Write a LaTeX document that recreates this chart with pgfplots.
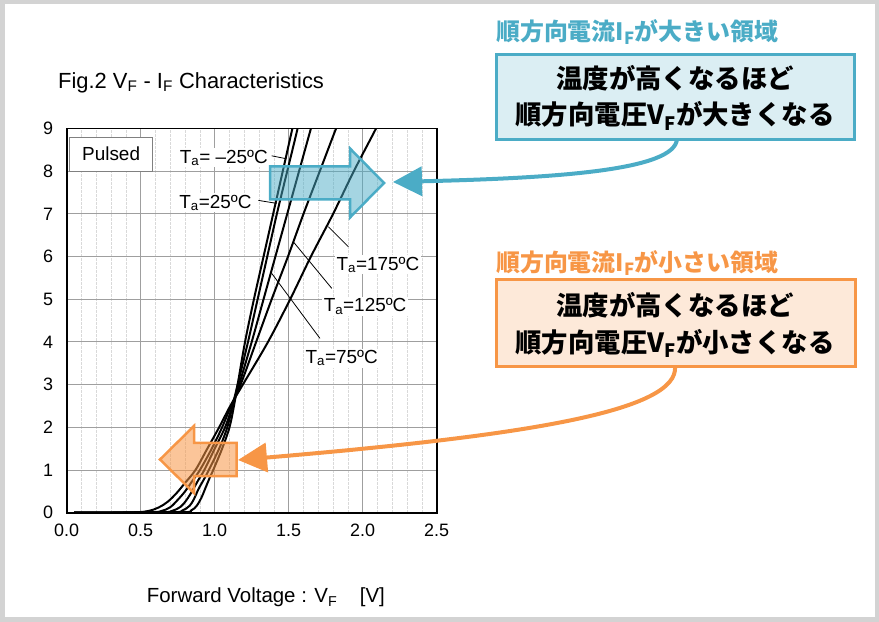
\documentclass[border=0pt]{standalone}
\usepackage{fontspec}
\setmainfont{Liberation Sans}
\newfontfamily\jp{Noto Sans CJK JP}
\usepackage{pgfplots}
\pgfplotsset{compat=1.18}
\usetikzlibrary{arrows.meta}

\definecolor{rblue}{RGB}{75,172,198}
\definecolor{rblueL}{RGB}{219,238,243}
\definecolor{rorange}{RGB}{247,150,70}
\definecolor{rorangeL}{RGB}{253,233,217}
\definecolor{framegray}{RGB}{211,211,211}

% forward voltage [V] vs forward current [A]
\pgfplotstableread{
V I
0.05 0
0.76 0.01
0.84 0.05
0.88 0.17
0.91 0.35
0.94 0.6
0.97 0.85
0.99 1.0
1.05 1.5
1.10 2.0
1.13 2.5
1.155 3
1.205 4
1.265 5
1.33 6
1.395 7
1.46 8
1.525 9
1.56 9.5
}\tm
\pgfplotstableread{
V I
0.05 0
0.70 0.01
0.78 0.05
0.83 0.16
0.86 0.32
0.89 0.55
0.93 0.8
0.96 1.0
1.03 1.5
1.085 2.0
1.12 2.5
1.155 3
1.225 4
1.29 5
1.355 6
1.42 7
1.49 8
1.56 9
1.59 9.5
}\tb
\pgfplotstableread{
V I
0.05 0
0.62 0.01
0.71 0.04
0.77 0.14
0.81 0.3
0.85 0.52
0.89 0.77
0.93 1.0
1.00 1.5
1.07 2.0
1.12 2.5
1.165 3
1.25 4
1.33 5
1.41 6
1.49 7
1.57 8
1.65 9
1.69 9.5
}\tc
\pgfplotstableread{
V I
0.05 0
0.55 0.01
0.64 0.04
0.70 0.13
0.75 0.3
0.80 0.5
0.85 0.75
0.90 1.0
0.98 1.5
1.05 2.0
1.11 2.5
1.175 3
1.28 4
1.385 5
1.495 6
1.60 7
1.71 8
1.82 9
1.88 9.5
}\td
\pgfplotstableread{
V I
0.05 0
0.45 0.01
0.55 0.04
0.62 0.12
0.68 0.25
0.74 0.45
0.80 0.7
0.87 1.0
0.95 1.5
1.03 2.0
1.105 2.5
1.19 3
1.36 4
1.51 5
1.65 6
1.80 7
1.94 8
2.09 9
2.16 9.5
}\te

\begin{document}
\begin{tikzpicture}
\begin{axis}[
    at={(66.7bp,109.3bp)}, anchor=south west,
    scale only axis, width=370bp, height=384.2bp,
    xmin=0, xmax=2.5, ymin=0, ymax=9,
    xtick={0,0.5,1,1.5,2,2.5}, ytick={0,1,...,9},
    minor x tick num=4,
    grid=both,
    major grid style={gray!75, line width=1bp},
    minor grid style={gray!30, line width=0.8bp, dash pattern=on 3bp off 1bp},
    major tick length=0, minor tick length=0,
    axis line style={black, line width=1.6bp},
    ticklabel style={font=\fontsize{18}{18}\selectfont},
    /pgf/number format/assume math mode=true,
    xticklabel style={yshift=-8bp, /pgf/number format/.cd, fixed, fixed zerofill, precision=1},
    yticklabel style={xshift=-10bp},
]
\addplot[black, line width=2bp, smooth, tension=0.55, no marks] table[x=V,y=I] {\tm};
\addplot[black, line width=2bp, smooth, tension=0.55, no marks] table[x=V,y=I] {\tb};
\addplot[black, line width=2bp, smooth, tension=0.55, no marks] table[x=V,y=I] {\tc};
\addplot[black, line width=2bp, smooth, tension=0.55, no marks] table[x=V,y=I] {\td};
\addplot[black, line width=2bp, smooth, tension=0.55, no marks] table[x=V,y=I] {\te};

% leaders
\draw[line width=0.8bp] (axis cs:1.385,8.36) -- (axis cs:1.486,8.29);
\draw[line width=0.8bp] (axis cs:1.295,7.316) -- (axis cs:1.419,7.246);
\draw[line width=0.8bp] (axis cs:1.768,6.698) -- (axis cs:1.903,6.23);
\draw[line width=0.8bp] (axis cs:1.531,6.347) -- (axis cs:1.791,5.255);
\draw[line width=0.8bp] (axis cs:1.385,5.607) -- (axis cs:1.711,4.084);

\tikzset{tal/.style={fill=white, inner sep=1.5bp, font=\fontsize{19}{19}\selectfont}}
\node[tal, anchor=base east] at (axis cs:1.37,8.19) {T\textsubscript{a}= –25ºC};
\node[tal, anchor=base east] at (axis cs:1.26,7.136) {T\textsubscript{a}=25ºC};
\node[tal, anchor=base] at (axis cs:2.103,5.684) {T\textsubscript{a}=175ºC};
\node[tal, anchor=base] at (axis cs:2.016,4.707) {T\textsubscript{a}=125ºC};
\node[tal, anchor=base] at (axis cs:1.858,3.5) {T\textsubscript{a}=75ºC};

\draw[gray, line width=0.8bp, fill=white] (axis cs:0.018,8.80) rectangle (axis cs:0.58,8.0);
\node[font=\fontsize{19}{19}\selectfont] at (axis cs:0.3,8.40) {Pulsed};
\end{axis}

\begin{scope}[shift={(0bp,622bp)}, x=1bp, y=-1bp]
\draw[framegray, line width=4.5bp] (2.25,2.25) rectangle (876.75,619.75);

\node[anchor=base west, inner sep=0, font=\fontsize{22}{22}\selectfont] at (58,88.3)
  {Fig.2 V\textsubscript{F} - I\textsubscript{F} Characteristics};
\node[anchor=base west, inner sep=0, font=\fontsize{20.5}{20.5}\selectfont] at (146.7,603)
  {Forward Voltage : V\textsubscript{F}\hspace{1.1em}[V]};

% block arrows
\draw[rblue, line width=2.5bp, fill=rblue, fill opacity=0.5, line join=miter]
  (270,166.5) -- (350,166.5) -- (350,148.5) -- (384,183) -- (350,217.5) -- (350,199.5) -- (270,199.5) -- cycle;
\draw[rorange, line width=2.5bp, fill=rorange, fill opacity=0.55, line join=miter]
  (236.7,442.8) -- (194,442.8) -- (194,426) -- (160,459.5) -- (194,493) -- (194,476.2) -- (236.7,476.2) -- cycle;

% callouts
\draw[rblue, line width=4bp, -{Triangle[length=29bp,width=29bp]}]
  (677,139) .. controls (675,170) and (560,178) .. (393,182);
\draw[rorange, line width=4bp, -{Triangle[length=29bp,width=29bp]}]
  (675,366) .. controls (680,412) and (520,436) .. (238,460);

\node[anchor=base west, inner sep=0, text=rblue, font=\jp\bfseries\fontsize{24}{24}\selectfont] at (496,40.4)
  {順方向電流I\textsubscript{F}が大きい領域};
\draw[rblue, line width=3bp, fill=rblueL] (496,54.3) rectangle (854,139.3);
\node[anchor=base, inner sep=0, font=\jp\bfseries\fontsize{26.5}{26.5}\selectfont] at (675,89)
  {温度が高くなるほど};
\node[anchor=base, inner sep=0, font=\jp\bfseries\fontsize{26.5}{26.5}\selectfont] at (675,125)
  {順方向電圧V\textsubscript{F}が大きくなる};

\node[anchor=base west, inner sep=0, text=rorange, font=\jp\bfseries\fontsize{24}{24}\selectfont] at (496,271.7)
  {順方向電流I\textsubscript{F}が小さい領域};
\draw[rorange, line width=3bp, fill=rorangeL] (496,280) rectangle (855,367);
\node[anchor=base, inner sep=0, font=\jp\bfseries\fontsize{26.5}{26.5}\selectfont] at (675,315.5)
  {温度が高くなるほど};
\node[anchor=base, inner sep=0, font=\jp\bfseries\fontsize{26.5}{26.5}\selectfont] at (675,352.5)
  {順方向電圧V\textsubscript{F}が小さくなる};
\end{scope}
\end{tikzpicture}
\end{document}
